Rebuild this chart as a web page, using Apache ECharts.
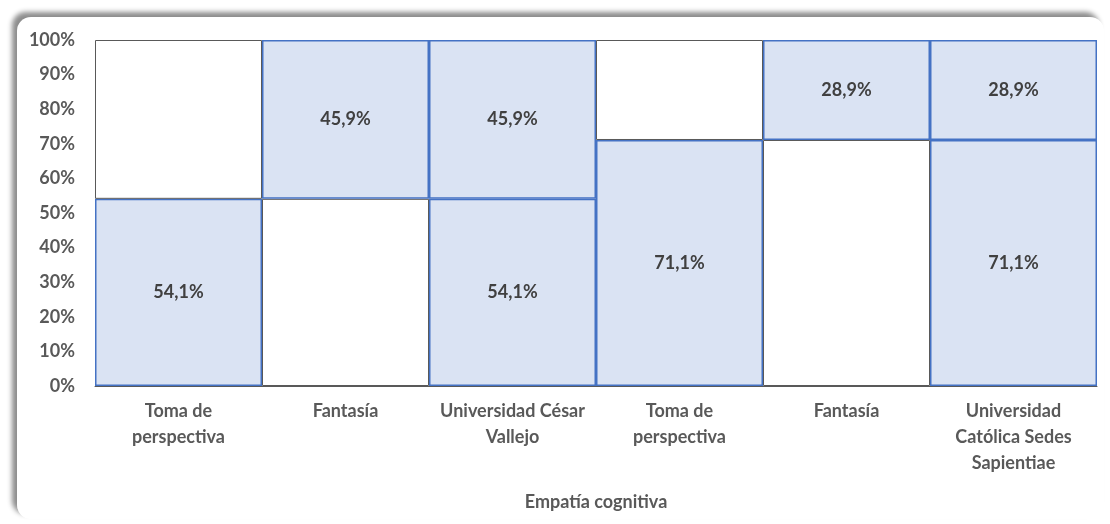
<!DOCTYPE html>
<html>
<head>
<meta charset="utf-8">
<script src="https://cdn.jsdelivr.net/npm/echarts@6/dist/echarts.min.js"></script>
<style>
	html, body { margin: 0; padding: 0; background: #ffffff; }
	#wrap { position: relative; width: 1110px; height: 524px; overflow: hidden; }
	#frame {
		position: absolute; left: 17px; top: 17px; width: 1087px; height: 502px;
		border-radius: 14px; background: #ffffff;
		box-shadow: -5px -5px 5px rgba(0, 0, 0, 0.45);
	}
	#chart { position: absolute; left: 0; top: 0; width: 1110px; height: 524px; }
</style>
</head>
<body>
<div id="wrap">
	<div id="frame"></div>
	<div id="chart"></div>
</div>
<script>
	// categorias del eje x
	var categories = ['Toma de\nperspectiva', 'Fantasía', 'Universidad César\nVallejo', 'Toma de\nperspectiva', 'Fantasía', 'Universidad\nCatólica Sedes\nSapientiae'];
	// porcentajes (parte inferior y superior)
	var bottomValues = [54.1, 54.1, 54.1, 71.1, 71.1, 71.1];
	var topValues = [45.9, 45.9, 45.9, 28.9, 28.9, 28.9];
	// 1 = barra rellena con etiqueta, 0 = barra en blanco
	var bottomFilled = [1, 0, 1, 1, 0, 1];
	var topFilled = [0, 1, 1, 0, 1, 1];
	var axisName = 'Empatía cognitiva';

	var fontFamily = 'Lato, "Open Sans", sans-serif';

	function fmt(v) {
		return v.toFixed(1).replace('.', ',') + '%';
	}

	function buildData(values, filled) {
		return values.map(function (v, i) {
			var on = filled[i] === 1;
			return {
				value: v,
				itemStyle: on ? {
					color: '#DAE3F3',
					borderColor: '#4472C4',
					borderWidth: 1.5
				} : {
					color: '#ffffff',
					borderColor: '#595959',
					borderWidth: 1
				},
				label: { show: on }
			};
		});
	}

	var labelStyle = {
		position: 'inside',
		color: '#404040',
		fontFamily: fontFamily,
		fontWeight: 'bold',
		fontSize: 18,
		formatter: function (p) { return fmt(p.value); }
	};

	var chart = echarts.init(document.getElementById('chart'));
	chart.setOption({
		animation: false,
		backgroundColor: 'transparent',
		grid: { left: 95, right: 13, top: 40, bottom: 138 },
		xAxis: {
			type: 'category',
			data: categories,
			name: axisName,
			nameLocation: 'middle',
			nameGap: 107,
			nameTextStyle: { color: '#595959', fontFamily: fontFamily, fontWeight: 'bold', fontSize: 18 },
			axisLine: { lineStyle: { color: '#595959', width: 1 } },
			axisTick: { show: false },
			axisLabel: {
				interval: 0,
				margin: 12,
				color: '#595959',
				fontFamily: fontFamily,
				fontWeight: 'bold',
				fontSize: 18,
				lineHeight: 26
			}
		},
		yAxis: {
			type: 'value',
			min: 0,
			max: 100,
			interval: 10,
			axisLine: { show: false },
			axisTick: { show: false },
			splitLine: { show: false },
			axisLabel: {
				margin: 20,
				color: '#595959',
				fontFamily: fontFamily,
				fontWeight: 'bold',
				fontSize: 18,
				formatter: '{value}%'
			}
		},
		series: [
			{
				name: 'inferior',
				type: 'bar',
				stack: 'total',
				barWidth: '100%',
				barCategoryGap: '0%',
				data: buildData(bottomValues, bottomFilled),
				label: labelStyle
			},
			{
				name: 'superior',
				type: 'bar',
				stack: 'total',
				barWidth: '100%',
				barCategoryGap: '0%',
				data: buildData(topValues, topFilled),
				label: labelStyle
			}
		]
	});
</script>
</body>
</html>
